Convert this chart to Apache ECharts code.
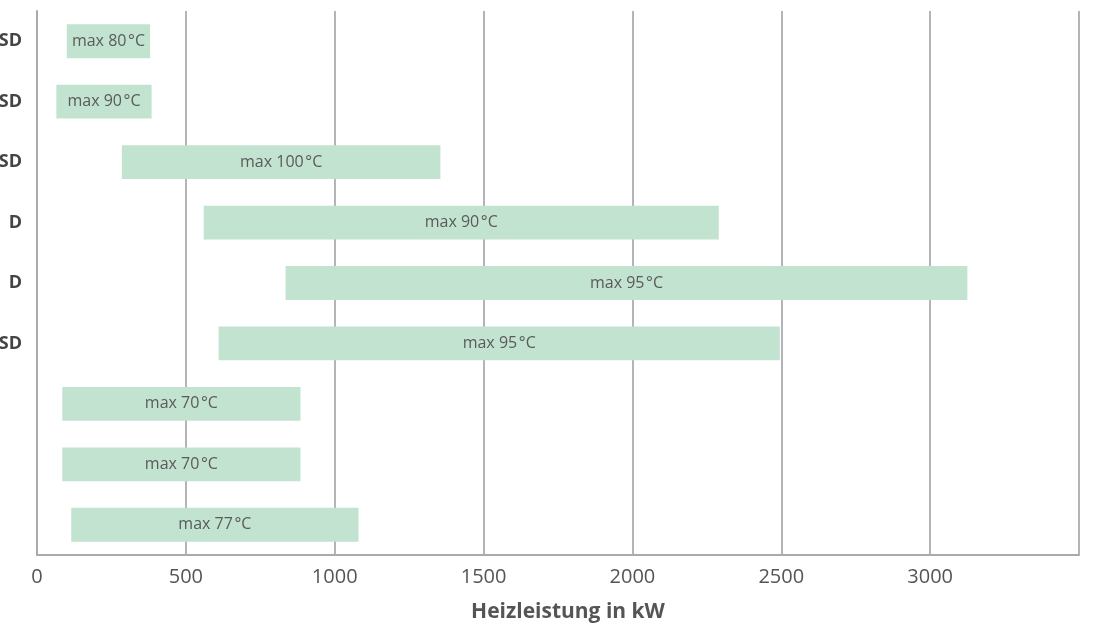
<!DOCTYPE html>
<html><head><meta charset="utf-8">
<script src="https://cdn.jsdelivr.net/npm/echarts@6/dist/echarts.min.js"></script>
<style>html,body{margin:0;padding:0;background:#fff}#c{width:1096px;height:627px}</style>
</head><body><div id="c"></div>
<script>
const categories = ["SD", "SD", "SD", "D", "D", "SD", "", "", ""];
const rangeStart = [100, 65, 285, 560, 835, 610, 85, 85, 115];
const rangeEnd = [380, 385, 1355, 2290, 3125, 2495, 885, 885, 1080];
const maxTemp = [80, 90, 100, 90, 95, 95, 70, 70, 77];
const xTicks = [0, 500, 1000, 1500, 2000, 2500, 3000];

const lengths = rangeEnd.map((e, i) => e - rangeStart[i]);
const chart = echarts.init(document.getElementById('c'));
const font = '"Open Sans", "Noto Sans", sans-serif';
chart.setOption({
  animation: false,
  grid: { left: 37, right: 17, top: 11, bottom: 72, containLabel: false, outerBoundsMode: 'none' },
  xAxis: {
    type: 'value', min: 0, max: 3500, interval: 500,
    name: 'Heizleistung in kW', nameLocation: 'middle', nameGap: 47,
    nameTextStyle: { fontFamily: font, fontSize: 21, fontWeight: 'bold', color: '#555', padding: [0, 0, 0, 20] },
    axisLine: { show: true, lineStyle: { color: '#a9a9ae', width: 2 } },
    axisTick: { show: false },
    axisLabel: { fontFamily: font, fontSize: 20, color: '#555', margin: 12,
      formatter: v => xTicks.includes(v) ? String(v) : '' },
    splitLine: { show: true, lineStyle: { color: '#b4b4b8', width: 2 } }
  },
  yAxis: {
    type: 'category', data: categories, inverse: true,
    axisLine: { show: true, lineStyle: { color: '#a9a9ae', width: 2 } },
    axisTick: { show: false },
    axisLabel: { fontFamily: font, fontSize: 18, fontWeight: 'bold', color: '#444', margin: 15 },
    splitLine: { show: false }
  },
  series: [
    { type: 'bar', stack: 'r', data: rangeStart, itemStyle: { color: 'transparent' }, barWidth: '56%', silent: true },
    { type: 'bar', stack: 'r', data: lengths, barWidth: '56%',
      itemStyle: { color: '#c3e3d1' },
      label: { show: true, position: 'inside', fontFamily: font, fontSize: 16, color: '#5a5a5a',
        formatter: p => 'max ' + maxTemp[p.dataIndex] + '\u200A°C' } }
  ]
});
</script></body></html>
